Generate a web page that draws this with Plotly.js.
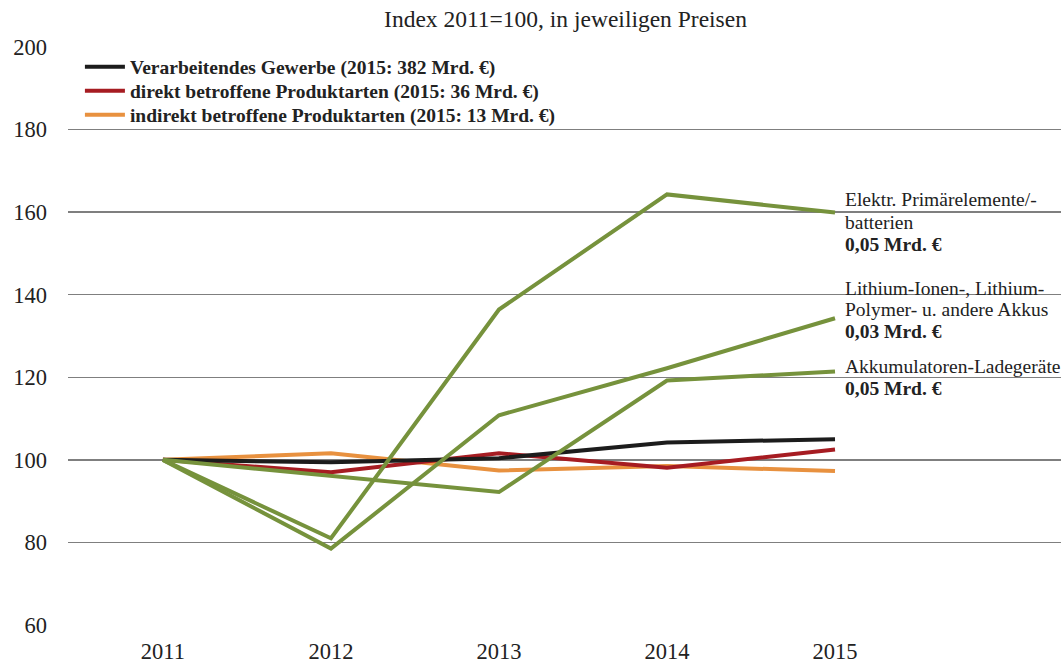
<!DOCTYPE html>
<html>
<head>
<meta charset="utf-8">
<script src="https://cdn.plot.ly/plotly-3.0.1.min.js"></script>
<style>html,body{margin:0;padding:0;background:#fff;}#chart{width:1061px;height:665px;}</style>
</head>
<body>
<div id="chart"></div>
<script>
const years = [2011, 2012, 2013, 2014, 2015];
const verarbeitendes = [100, 99.4, 100.4, 104.2, 105.0];
const direkt = [100, 97.0, 101.6, 98.1, 102.5];
const indirekt = [100, 101.6, 97.4, 98.5, 97.3];
const primaer = [100, 81.0, 136.4, 164.3, 159.9];
const lithium = [100, 78.5, 110.8, 122.2, 134.3];
const akku = [100, 96.0, 92.2, 119.2, 121.4];

const legendNames = [
  "Verarbeitendes Gewerbe (2015: 382 Mrd. €)",
  "direkt betroffene Produktarten (2015: 36 Mrd. €)",
  "indirekt betroffene Produktarten (2015: 13 Mrd. €)"
];
// side label lines and the index level at which each line sits
const sideLabelLines = [
  "Elektr. Primärelemente/-", "batterien", "<b>0,05 Mrd. €</b>",
  "Lithium-Ionen-, Lithium-", "Polymer- u. andere Akkus", "<b>0,03 Mrd. €</b>",
  "Akkumulatoren-Ladegeräte", "<b>0,05 Mrd. €</b>"
];
const sideLabelLevels = [163.0, 157.4, 152.2, 141.6, 136.3, 131.0, 122.6, 117.2];
const yTicks = [60, 80, 100, 120, 140, 160, 180, 200];

const green = "#76923c";
const serif = "Liberation Serif";

const traces = [
  {x: years, y: indirekt, mode: "lines", name: legendNames[2], legend: "legend3", line: {color: "#e8913f", width: 4}},
  {x: years, y: direkt, mode: "lines", name: legendNames[1], legend: "legend2", line: {color: "#a61c22", width: 4}},
  {x: years, y: verarbeitendes, mode: "lines", name: legendNames[0], legend: "legend", line: {color: "#1c1c1c", width: 4}},
  {x: years, y: primaer, mode: "lines", line: {color: green, width: 4}, showlegend: false},
  {x: years, y: lithium, mode: "lines", line: {color: green, width: 4}, showlegend: false},
  {x: years, y: akku, mode: "lines", line: {color: green, width: 4}, showlegend: false}
];

const annotations = sideLabelLines.map((t, i) => ({
  xref: "paper", yref: "y", x: 0.78, y: sideLabelLevels[i], xanchor: "left", yanchor: "middle",
  align: "left", showarrow: false, text: t, font: {family: serif, size: 19.5, color: "#222"}
}));

function legendAt(yPaper) {
  return {x: 0.012, y: yPaper, xanchor: "left", yanchor: "middle", bgcolor: "rgba(0,0,0,0)",
          font: {family: serif, size: 19.5, color: "#222", weight: "bold"}, itemwidth: 40};
}

const layout = {
  width: 1061, height: 665,
  margin: {l: 68, r: 0, t: 47, b: 40},
  paper_bgcolor: "#fff", plot_bgcolor: "#fff",
  font: {family: serif, color: "#222"},
  title: {text: "Index 2011=100, in jeweiligen Preisen", x: 0.533, xanchor: "center", y: 0.972, yanchor: "middle",
          font: {family: serif, size: 23.5, color: "#222"}},
  xaxis: {range: [2010.435, 2016.345], tickvals: years, ticktext: years.map(String), showgrid: false, zeroline: false,
          showline: false, ticks: "", tickfont: {family: serif, size: 22.5, color: "#222"}, ticklabelstandoff: 10},
  yaxis: {range: [60, 200], tickvals: yTicks, showgrid: true, gridcolor: "#7f7f7f", gridwidth: 1.3, zeroline: false,
          showline: false, ticks: "", ticklabelstandoff: 20, tickfont: {family: serif, size: 22.5, color: "#222"}},
  showlegend: true,
  legend: legendAt(0.9654),
  legend2: legendAt(0.9239),
  legend3: legendAt(0.8824),
  annotations: annotations
};

Plotly.newPlot("chart", traces, layout, {displayModeBar: false, staticPlot: true});
</script>
</body>
</html>
